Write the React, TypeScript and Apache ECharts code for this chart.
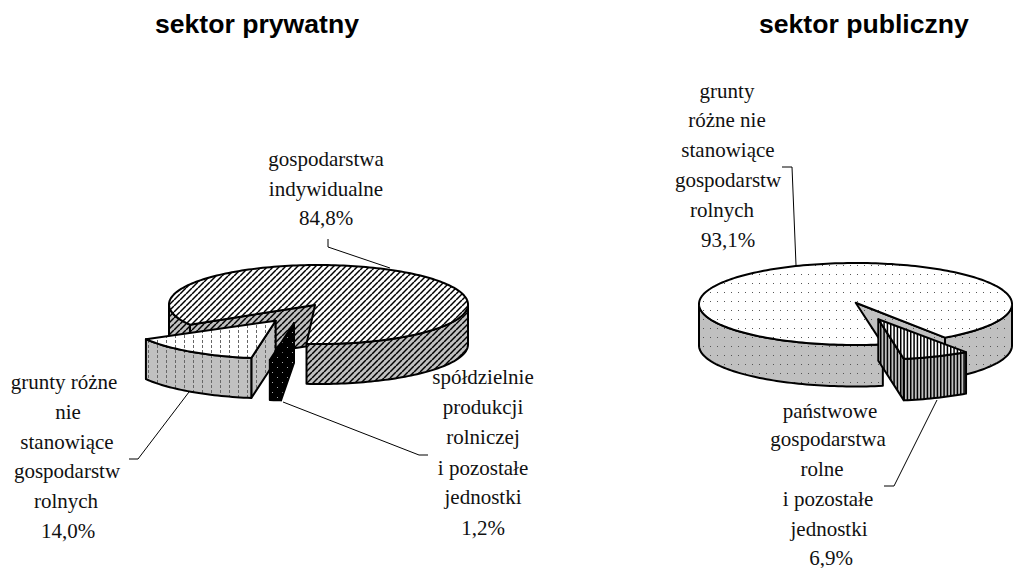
import React, { useEffect, useRef } from "react";
import * as echarts from "echarts";

// ---- data ----
const privateCategories = [
  "gospodarstwa indywidualne",
  "spółdzielnie produkcji rolniczej i pozostałe jednostki",
  "grunty różne nie stanowiące gospodarstw rolnych",
];
const privateValues = [84.8, 1.2, 14.0];
const publicCategories = [
  "grunty różne nie stanowiące gospodarstw rolnych",
  "państwowe gospodarstwa rolne i pozostałe jednostki",
];
const publicValues = [93.1, 6.9];
const titles = ["sektor prywatny", "sektor publiczny"];

const privateLabels = [
  ["gospodarstwa", "indywidualne", "84,8%"],
  ["spółdzielnie", "produkcji", "rolniczej", "i pozostałe", "jednostki", "1,2%"],
  ["grunty różne", "nie", "stanowiące", "gospodarstw", "rolnych", "14,0%"],
];
const publicLabels = [
  ["grunty", "różne nie", "stanowiące", "gospodarstw", "rolnych", "93,1%"],
  ["państwowe", "gospodarstwa", "rolne", "i pozostałe", "jednostki", "6,9%"],
];

// ---- layout ----
const FONT = '"Liberation Serif", "Times New Roman", serif';
const labelLayout: [number[], number[]][] = [
  [[326, 326, 326], [165, 195, 224]],
  [[483, 483, 483, 483, 483, 483], [383, 413, 443, 474, 503, 534]],
  [[64, 68, 67, 67, 66, 68], [388, 418, 448, 477, 507, 537]],
  [[727, 727, 728, 728, 722, 728], [97, 126, 156, 186, 216, 246]],
  [[830, 828, 822, 828, 829, 831], [417, 445, 475, 505, 535, 564]],
];
const leaders = [
  [[328, 239], [328, 247], [390, 268]],
  [[129, 459], [138, 459], [189, 392]],
  [[428, 455], [419, 455], [283, 402]],
  [[782, 167], [792, 167], [796, 265]],
  [[884, 486], [894, 486], [937, 400]],
];

type Tile = { image: HTMLCanvasElement; repeat: string; imageWidth: number; imageHeight: number };

function tile(w: number, h: number, bg: string, draw: (c: CanvasRenderingContext2D) => void): Tile {
  const cv = document.createElement("canvas");
  cv.width = w;
  cv.height = h;
  const c = cv.getContext("2d")!;
  c.fillStyle = bg;
  c.fillRect(0, 0, w, h);
  draw(c);
  return { image: cv, repeat: "repeat", imageWidth: w, imageHeight: h };
}

const GRAY = "#c0c0c0";
const hatch = (bg: string) =>
  tile(6, 6, bg, (c) => {
    c.strokeStyle = "#000";
    c.lineWidth = 1.5;
    for (let k = -6; k <= 12; k += 6) {
      c.beginPath();
      c.moveTo(k, 6);
      c.lineTo(k + 6, 0);
      c.stroke();
    }
  });
const dots = (bg: string) =>
  tile(7, 9, bg, (c) => {
    c.fillStyle = "#555";
    c.fillRect(3, 4, 1, 1);
  });
const dashes = (bg: string) =>
  tile(9, 5, bg, (c) => {
    c.fillStyle = "#666";
    c.fillRect(4, 0, 1, 3);
  });
const stripes = (bg: string) =>
  tile(10, 2, bg, (c) => {
    c.fillStyle = "#000";
    c.fillRect(0, 0, 1.5, 2);
    c.fillRect(3.33, 0, 1.5, 2);
    c.fillRect(6.67, 0, 1.5, 2);
  });
const blackDots = () =>
  tile(10, 10, "#000", (c) => {
    c.fillStyle = "#aaa";
    c.fillRect(2, 2, 1, 1);
    c.fillRect(7, 7, 1, 1);
  });

type Slice = { off: number[]; apex: number[]; order: number; top: Tile; wall: Tile };
type Pie = { cx: number; cy: number; rx: number; ry: number; depth: number; start: number; values: number[]; slices: Slice[] };

function slicePolys(pie: Pie, i: number) {
  const { cx, cy, rx, ry, depth, start, values, slices } = pie;
  let a0 = start;
  for (let k = 0; k < i; k++) a0 += (values[k] / 100) * 360;
  const a1 = a0 + (values[i] / 100) * 360;
  const s = slices[i];
  const rad = (d: number) => (d * Math.PI) / 180;
  const pt = (a: number, dy = 0) => [
    cx + s.off[0] + rx * Math.cos(rad(a)),
    cy + s.off[1] + ry * Math.sin(rad(a)) + dy,
  ];
  const apex = [cx + s.apex[0], cy + s.apex[1]];
  const arc = (from: number, to: number, dy = 0) => {
    const out: number[][] = [];
    const n = Math.max(2, Math.ceil((to - from) / 1.5));
    for (let j = 0; j <= n; j++) out.push(pt(from + ((to - from) * j) / n, dy));
    return out;
  };
  const faces: { points: number[][]; fill: Tile }[] = [];
  const cutWall = (a: number) => {
    faces.push({
      points: [apex, pt(a), pt(a, depth), [apex[0], apex[1] + depth]],
      fill: s.wall,
    });
  };
  if (Math.cos(rad(a0)) < 0) cutWall(a0);
  if (Math.cos(rad(a1)) > 0) cutWall(a1);
  for (let k = 0; k < 2; k++) {
    const lo = Math.max(a0, k * 360);
    const hi = Math.min(a1, 180 + k * 360);
    if (hi > lo) {
      faces.push({ points: [...arc(lo, hi), ...arc(lo, hi, depth).reverse()], fill: s.wall });
    }
  }
  faces.push({ points: [apex, ...arc(a0, a1)], fill: s.top });
  return faces;
}

const renderSlice = (pie: Pie) => (params: any) => {
  const i = params.dataIndex;
  const base = pie.slices[i].order * 10;
  return {
    type: "group",
    children: slicePolys(pie, i).map((f, j) => ({
      type: "polygon",
      z2: base + j,
      shape: { points: f.points },
      style: { fill: f.fill, stroke: "#000", lineWidth: 2, lineJoin: "round" },
    })),
  };
};

export default function App() {
  const ref = useRef<HTMLDivElement>(null);
  useEffect(() => {
    const chart = echarts.init(ref.current!, undefined, { renderer: "svg" });
    const leftPie: Pie = {
      cx: 318.5, cy: 304.5, rx: 149.5, ry: 39.5, depth: 40, start: 149.32, values: privateValues,
      slices: [
        { off: [0, 0], apex: [-3.5, 0.5], order: 0, top: hatch("#fff"), wall: hatch(GRAY) },
        { off: [-25.5, 16.5], apex: [-24.5, 18.5], order: 2, top: blackDots(), wall: blackDots() },
        { off: [-44, 14.5], apex: [-42.8, 16.2], order: 1, top: dashes("#fff"), wall: dashes(GRAY) },
      ],
    };
    const rightPie: Pie = {
      cx: 855.5, cy: 304, rx: 156.5, ry: 41, depth: 41.5, start: 79.94, values: publicValues,
      slices: [
        { off: [0, 0], apex: [0.2, -1.3], order: 0, top: dots("#fff"), wall: dots(GRAY) },
        { off: [21, 14.5], apex: [22.8, 15.3], order: 1, top: stripes("#fff"), wall: stripes(GRAY) },
      ],
    };
    const labelLines = [...privateLabels, ...publicLabels];
    const texts: any[] = [];
    labelLines.forEach((lines, b) =>
      lines.forEach((line, j) =>
        texts.push({
          type: "text",
          x: labelLayout[b][0][j],
          y: labelLayout[b][1][j] - 6.5,
          silent: true,
          style: { text: line, font: `21px ${FONT}`, lineHeight: 16, fill: "#111", textAlign: "center", textVerticalAlign: "middle" },
        })
      )
    );
    const lines = leaders.map((pts) => ({
      type: "polyline",
      silent: true,
      shape: { points: pts },
      style: { stroke: "#000", lineWidth: 1, fill: "none" },
      z: 5,
    }));
    const titleStyle = { fontFamily: '"Liberation Sans", Arial, sans-serif', fontWeight: "bold", fontSize: 26.6, color: "#000" };
    chart.setOption({
      animation: false,
      backgroundColor: "#fff",
      title: [
        { text: titles[0], left: 155, top: 10, padding: 0, textStyle: titleStyle },
        { text: titles[1], left: 759, top: 10, padding: 0, textStyle: titleStyle },
      ],
      graphic: [...lines, ...texts],
      series: [
        {
          type: "custom", name: "sektor prywatny", coordinateSystem: "none", silent: true, z: 2,
          data: privateCategories.map((name, i) => ({ name, value: [privateValues[i]] })),
          renderItem: renderSlice(leftPie),
        },
        {
          type: "custom", name: "sektor publiczny", coordinateSystem: "none", silent: true, z: 2,
          data: publicCategories.map((name, i) => ({ name, value: [publicValues[i]] })),
          renderItem: renderSlice(rightPie),
        },
      ],
    });
    return () => chart.dispose();
  }, []);
  return <div ref={ref} style={{ position: "fixed", left: 0, top: 0, width: 1013, height: 568 }} />;
}
